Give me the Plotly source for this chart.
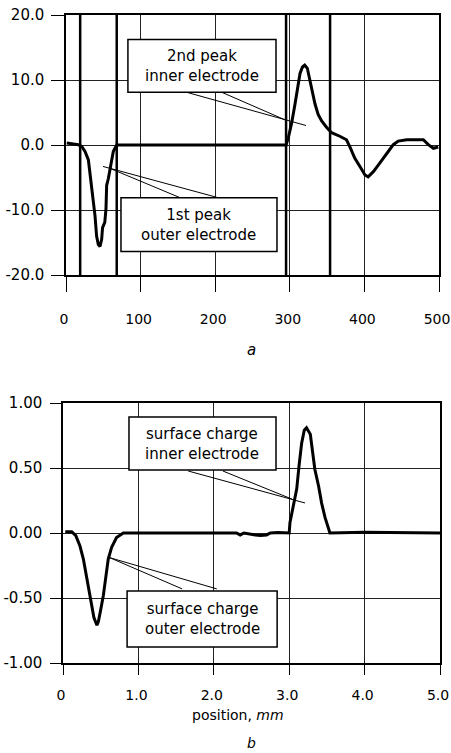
import plotly.graph_objects as go

# ---------------- panel a : signal ----------------
a_x = [1, 8, 16.5, 21, 25.5, 30, 32, 34.4, 36.6, 38.9, 41, 43.3, 45.6, 47.8, 49, 52,
       53.6, 54.5, 56.7, 59, 61.3, 63.4, 65.7, 68, 100, 150, 200, 250, 290, 295,
       298, 302.5, 307, 311.4, 313.7, 317, 320, 323.5, 327, 330.7, 333.8, 338,
       342.7, 349.5, 356, 367, 376, 381, 387, 394, 400.8, 405, 412, 418.6, 425,
       432, 438.7, 445.4, 456.7, 468, 479, 485.7, 492.4, 499]
a_y = [0.3, 0.2, 0.05, -0.2, -1.0, -2.3, -4.1, -6.5, -8.3, -10.9, -14.0, -15.3, -15.6,
       -14.5, -12.7, -11.9, -9.8, -6.2, -5.2, -3.6, -2.3, -1.0, -0.5, 0.0, 0.0, 0.0,
       0.0, 0.0, 0.0, 0.0, 1.1, 3.4, 6.3, 9.4, 11.0, 12.0, 12.3, 11.8, 9.9, 7.9, 6.3,
       4.7, 3.7, 2.7, 1.9, 1.35, 0.8, -0.4, -2.0, -3.3, -4.6, -4.9, -4.1, -3.1, -2.0,
       -1.0, 0.05, 0.6, 0.8, 0.8, 0.8, 0.05, -0.5, -0.3]
electrode_edges = [19, 68, 295, 354]
a_xticks = [0, 100, 200, 300, 400, 500]
a_xticktext = ["0", "100", "200", "300", "400", "500"]
a_yticks = [-20, -10, 0, 10, 20]
a_yticktext = ["-20.0", "-10.0", "0.0", "10.0", "20.0"]

# ---------------- panel b : surface charge ----------------
b_x = [0.03, 0.115, 0.17, 0.225, 0.27, 0.31, 0.35, 0.38, 0.41, 0.45, 0.47, 0.50, 0.535,
       0.57, 0.60, 0.645, 0.71, 0.80, 1.0, 1.5, 2.0, 2.3, 2.35, 2.4, 2.55, 2.62, 2.7,
       2.75, 2.85, 3.0, 3.01, 3.05, 3.10, 3.13, 3.165, 3.20, 3.23, 3.28, 3.31, 3.34,
       3.39, 3.43, 3.475, 3.52, 3.54, 4.0, 4.5, 5.0]
b_y = [0.01, 0.01, -0.02, -0.10, -0.20, -0.33, -0.46, -0.57, -0.65, -0.71, -0.68,
       -0.59, -0.48, -0.33, -0.20, -0.11, -0.035, 0.0, 0.0, 0.0, 0.0, 0.0, -0.015, 0.0,
       -0.015, -0.02, -0.015, 0.0, 0.003, 0.0, 0.08, 0.21, 0.34, 0.515, 0.69, 0.79,
       0.81, 0.76, 0.62, 0.49, 0.36, 0.23, 0.12, 0.03, 0.0, 0.005, 0.0, 0.0]
b_xticks = [0, 1, 2, 3, 4, 5]
b_xticktext = ["0", "1.0", "2.0", "3.0", "4.0", "5.0"]
b_yticks = [-1, -0.5, 0, 0.5, 1]
b_yticktext = ["-1.00", "-0.50", "0.00", "0.50", "1.00"]

FONT = "DejaVu Sans"
INK = "black"

fig = go.Figure()

fig.add_trace(go.Scatter(x=a_x, y=a_y, mode="lines", xaxis="x", yaxis="y",
                         line=dict(color=INK, width=3), showlegend=False))
ex, ey = [], []
for e in electrode_edges:
    ex += [e, e, None]
    ey += [-20, 20, None]
fig.add_trace(go.Scatter(x=ex, y=ey, mode="lines", xaxis="x", yaxis="y",
                         line=dict(color=INK, width=2.5), showlegend=False))
fig.add_trace(go.Scatter(x=b_x, y=b_y, mode="lines", xaxis="x2", yaxis="y2",
                         line=dict(color=INK, width=3), showlegend=False))

axis_common = dict(showgrid=True, gridcolor="#222", gridwidth=1, zeroline=False,
                   showline=True, linecolor=INK, linewidth=1.5, mirror=True,
                   ticks="outside", tickcolor=INK, tickwidth=1.2, automargin=False,
                   ticklabeloverflow="allow")
yfont = dict(family=FONT, size=15, color=INK)
xfont = dict(family=FONT, size=14, color=INK)

fig.update_layout(
    width=451, height=753, margin=dict(l=0, r=0, t=0, b=0, pad=0),
    paper_bgcolor="white", plot_bgcolor="white", showlegend=False,
    xaxis=dict(domain=[66/451, 439/451], range=[0, 500], tickvals=a_xticks,
               ticktext=a_xticktext, anchor="y", ticklen=15, ticklabelstandoff=15,
               ticklabelshift=-2, tickfont=xfont, **axis_common),
    yaxis=dict(domain=[1-275/753, 1-15/753], range=[-20, 20], tickvals=a_yticks,
               ticktext=a_yticktext, anchor="x", ticklen=13, ticklabelstandoff=4,
               tickfont=yfont, **axis_common),
    xaxis2=dict(domain=[63/451, 440/451], range=[0, 5], tickvals=b_xticks,
                ticktext=b_xticktext, anchor="y2", ticklen=10, ticklabelstandoff=8,
                ticklabelshift=-2, tickfont=xfont, **axis_common),
    yaxis2=dict(domain=[1-663/753, 1-403/753], range=[-1, 1], tickvals=b_yticks,
                ticktext=b_yticktext, anchor="x2", ticklen=11, ticklabelstandoff=5,
                tickfont=yfont, **axis_common),
)

# callout boxes: (xref, yref, x0, x1, y0, y1, text)
boxes = [
    ("x", "y", 83, 281.5, 8.1, 16.25, "2nd peak<br>inner electrode"),
    ("x", "y", 73.7, 282.8, -16.4, -8.1, "1st peak<br>outer electrode"),
    ("x2", "y2", 0.875, 2.825, 0.485, 0.892, "surface charge<br>inner electrode"),
    ("x2", "y2", 0.85, 2.84, -0.877, -0.446, "surface charge<br>outer electrode"),
]
leaders = [
    ("x", "y", 162, 8.1, 321.7, 3.0),
    ("x", "y", 209, 8.1, 296, 3.75),
    ("x", "y", 49.6, -3.3, 203.8, -8.1),
    ("x", "y", 59, -3.6, 152.8, -8.1),
    ("x2", "y2", 1.66, 0.477, 3.21, 0.231),
    ("x2", "y2", 2.12, 0.477, 3.04, 0.26),
    ("x2", "y2", 0.62, -0.19, 2.04, -0.43),
    ("x2", "y2", 0.62, -0.19, 1.58, -0.43),
]
shapes = []
annotations = []
for xr, yr, x0, x1, y0, y1, txt in boxes:
    shapes.append(dict(type="rect", xref=xr, yref=yr, x0=x0, x1=x1, y0=y0, y1=y1,
                       fillcolor="white", line=dict(color=INK, width=1.5), layer="above"))
    annotations.append(dict(xref=xr, yref=yr, x=(x0+x1)/2, y=(y0+y1)/2, text=txt,
                            showarrow=False, xanchor="center", yanchor="middle",
                            align="center", font=dict(family=FONT, size=15, color=INK)))
for xr, yr, x0, y0, x1, y1 in leaders:
    shapes.append(dict(type="line", xref=xr, yref=yr, x0=x0, y0=y0, x1=x1, y1=y1,
                       line=dict(color=INK, width=1), layer="above"))

annotations += [
    dict(xref="paper", yref="paper", x=251/451, y=1-350/753, text="<i>a</i>",
         showarrow=False, xanchor="center", yanchor="middle",
         font=dict(family=FONT, size=15, color=INK)),
    dict(xref="paper", yref="paper", x=252/451, y=1-743/753, text="<i>b</i>",
         showarrow=False, xanchor="center", yanchor="middle",
         font=dict(family=FONT, size=14, color=INK)),
    dict(xref="paper", yref="paper", x=238/451, y=1-715/753, text="position, <i>mm</i>",
         showarrow=False, xanchor="center", yanchor="middle",
         font=dict(family=FONT, size=14, color=INK)),
]
fig.update_layout(shapes=shapes, annotations=annotations)

fig.write_html("out.html", config={"displayModeBar": False},
               post_script="document.body.style.margin='0';document.body.style.overflow='hidden';")
